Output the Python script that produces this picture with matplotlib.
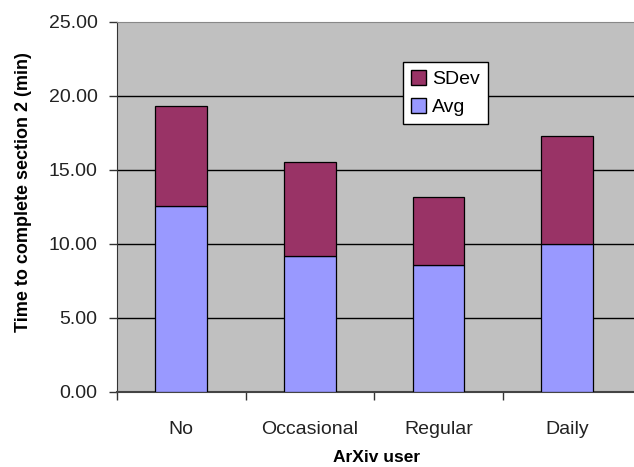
import matplotlib
matplotlib.use("Agg")
import matplotlib.pyplot as plt
import numpy as np
from matplotlib.patches import Patch

categories = ["No", "Occasional", "Regular", "Daily"]
avg = [12.55, 9.22, 8.57, 9.97]
sdev = [6.75, 6.33, 4.63, 7.30]
yticks = [0, 5, 10, 15, 20, 25]

plt.rcParams['font.family'] = ['Liberation Sans', 'DejaVu Sans']

fig = plt.figure(figsize=(6.34, 4.67), dpi=100)
ax = fig.add_axes([117/634, 1-392/467, 1-117/634, (392-22)/467])
ax.set_facecolor('#C0C0C0')

x = np.arange(len(categories))
ax.bar(x, avg, width=0.404, color='#9999FF', edgecolor='black', linewidth=0.9, zorder=3, label='Avg')
ax.bar(x, sdev, bottom=avg, width=0.404, color='#993366', edgecolor='black', linewidth=0.9, zorder=3, label='SDev')

ax.set_ylim(0, 25)
ax.set_xlim(-0.5, 3.52)
ax.set_yticks(yticks)
ax.set_yticklabels([f"{v:.2f}" for v in yticks], fontsize=14, color='#222222')
for v in yticks[1:-1]:
    ax.axhline(v, color='black', linewidth=1.0, zorder=1)

ax.set_xticks(x)
ax.set_xticklabels(categories, fontsize=14, color='#222222')
ax.tick_params(axis='x', which='major', length=0, pad=21)
ax.set_xticks([-0.5, 0.5, 1.5, 2.5], minor=True)
ax.tick_params(axis='x', which='minor', length=6, width=1, direction='out', color='#333333')
ax.tick_params(axis='y', length=6, width=1, direction='out', color='#333333', pad=8)

ax.spines['right'].set_visible(False)
ax.spines['top'].set_color('#888888')
ax.spines['left'].set_color('#333333')
ax.spines['bottom'].set_color('#444444')
ax.spines['bottom'].set_linewidth(1.5)

fig.text(24/634, 1-192/467, "Time to complete section 2 (min)", rotation=90,
         ha='center', va='center', fontsize=13, fontweight='bold')
fig.text(377/634, 1-457/467, "ArXiv user", ha='center', va='center',
         fontsize=12.5, fontweight='bold')

handles = [Patch(facecolor='#993366', edgecolor='black', label='SDev'),
           Patch(facecolor='#9999FF', edgecolor='black', label='Avg')]
leg = ax.legend(handles=handles, loc='upper left',
                bbox_to_anchor=((403-117)/517, (392-62)/370),
                fontsize=14, frameon=True, fancybox=False, framealpha=1,
                edgecolor='black', handlelength=0.8, handleheight=0.8,
                handletextpad=0.3, borderpad=0.4, labelspacing=0.5,
                borderaxespad=0)
leg.get_frame().set_linewidth(1.0)
leg.set_zorder(5)

fig.savefig("out.png", dpi=100)
